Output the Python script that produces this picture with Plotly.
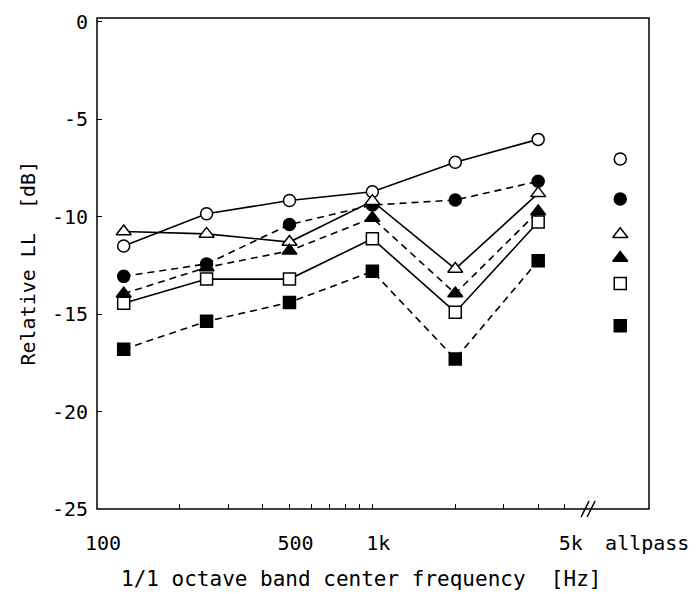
import plotly.graph_objects as go

# 1/1 octave band centre frequencies [Hz]
freqs = [125, 250, 500, 1000, 2000, 4000]

# Relative listening level [dB] per condition, per band, and the allpass value
open_circle = [-11.5, -9.85, -9.17, -8.72, -7.2, -6.03]
filled_circle = [-13.06, -12.42, -10.4, -9.4, -9.14, -8.18]
open_triangle = [-10.76, -10.88, -11.3, -9.2, -12.68, -8.8]
filled_triangle = [-13.95, -12.6, -11.75, -10.06, -13.94, -9.73]
open_square = [-14.44, -13.2, -13.2, -11.13, -14.9, -10.27]
filled_square = [-16.8, -15.37, -14.4, -12.8, -17.3, -12.26]

allpass_values = [-7.04, -9.09, -10.9, -12.12, -13.43, -15.59]
allpass_label = ["allpass"]

# Axis ticks
x_tick_vals = [100, 500, 1000, 5000]
x_tick_text = ["100", "500", "1k", "5k"]
x_minor_vals = [200, 300, 400, 600, 700, 800, 900, 2000, 3000, 4000]
y_tick_vals = [0, -5, -10, -15, -20, -25]
y_tick_text = ["0", "-5", "-10", "-15", "-20", "-25"]

FONT = "DejaVu Sans Mono"

series = [
    (open_circle, "circle", "white", "solid"),
    (filled_circle, "circle", "black", "dash"),
    (open_triangle, "triangle-up", "white", "solid"),
    (filled_triangle, "triangle-up", "black", "dash"),
    (open_square, "square", "white", "solid"),
    (filled_square, "square", "black", "dash"),
]

fig = go.Figure()

for (vals, sym, fill, dash), ap in zip(series, allpass_values):
    size = 13 if sym == "triangle-up" else 12
    marker = dict(symbol=sym, size=size, color=fill,
                  line=dict(color="black", width=1.5))
    fig.add_trace(go.Scatter(
        x=freqs, y=vals, mode="lines+markers",
        line=dict(color="black", width=1.6,
                  dash="7px,5px" if dash == "dash" else "solid"),
        marker=marker, xaxis="x", yaxis="y", showlegend=False,
    ))
    fig.add_trace(go.Scatter(
        x=allpass_label, y=[ap], mode="markers",
        marker=marker, xaxis="x2", yaxis="y", showlegend=False,
    ))

BREAK = 0.8915  # fraction of plot width where the frequency axis is broken

fig.update_layout(
    width=699, height=594,
    margin=dict(l=97, r=40, t=10, b=85),
    paper_bgcolor="white", plot_bgcolor="white",
    font=dict(family=FONT, size=20, color="black"),
    xaxis=dict(
        type="log", domain=[0, BREAK], range=[2, 3.787],
        tickvals=x_tick_vals, ticktext=x_tick_text,
        ticks="inside", ticklen=5, tickwidth=1.2, tickcolor="black",
        minor=dict(tickvals=x_minor_vals, ticks="inside", ticklen=5,
                   tickwidth=1.2, tickcolor="black", showgrid=False),
        showgrid=False, zeroline=False, showline=False,
        ticklabelstandoff=20, ticklabelshift=6,
        anchor="y",
    ),
    xaxis3=dict(
        type="log", domain=[0, BREAK], range=[2, 3.787],
        overlaying="x", anchor="y",
        tickvals=[1000], ticks="inside", ticklen=12, tickwidth=1.2,
        tickcolor="black", showticklabels=False,
        showgrid=False, zeroline=False, showline=False,
    ),
    xaxis2=dict(
        type="category", domain=[BREAK, 1], range=[-0.52, 0.48],
        showgrid=False, zeroline=False, showline=False, ticks="",
        ticklabelstandoff=20, ticklabelshift=27,
        anchor="y",
    ),
    yaxis=dict(
        range=[-25, 0.2], tickvals=y_tick_vals, ticktext=y_tick_text,
        ticks="inside", ticklen=5, tickwidth=1.2, tickcolor="black",
        showgrid=False, zeroline=False, showline=False,
        ticklabelstandoff=8,
    ),
    shapes=[
        # plot frame
        dict(type="rect", xref="paper", yref="paper", x0=0, x1=1, y0=0, y1=1,
             line=dict(color="black", width=1.5), layer="above"),
        # axis-break marks "//"
        dict(type="line", xref="paper", yref="paper",
             xsizemode="pixel", ysizemode="pixel", xanchor=BREAK, yanchor=0,
             x0=-8, x1=0, y0=-8, y1=8, line=dict(color="black", width=1.5)),
        dict(type="line", xref="paper", yref="paper",
             xsizemode="pixel", ysizemode="pixel", xanchor=BREAK, yanchor=0,
             x0=-2, x1=6, y0=-8, y1=8, line=dict(color="black", width=1.5)),
    ],
    annotations=[
        dict(text="1/1 octave band center frequency  [Hz]", xref="paper", yref="paper",
             x=0.479, y=0, yshift=-70, xanchor="center", yanchor="middle",
             showarrow=False, font=dict(family=FONT, size=21)),
        dict(text="Relative LL  [dB]", xref="paper", yref="paper",
             x=0, xshift=-70, y=0.5, textangle=-90, xanchor="center",
             yanchor="middle", showarrow=False, font=dict(family=FONT, size=20)),
    ],
)

fig.write_html("out.html")
